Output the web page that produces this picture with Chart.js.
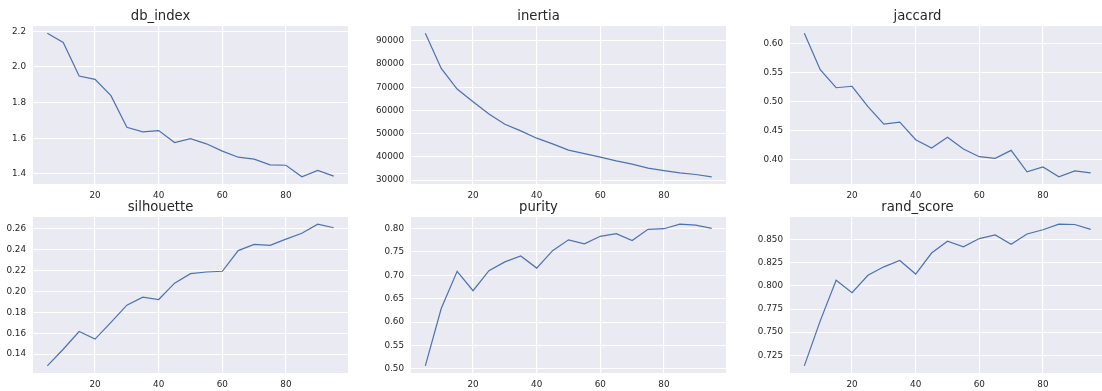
<!DOCTYPE html>
<html>
<head>
<meta charset="utf-8">
<script src="https://cdn.jsdelivr.net/npm/chart.js@4"></script>
<style>
  html, body { margin: 0; padding: 0; background: #fff; overflow: hidden; width: 1102px; height: 391px; }
  canvas { position: absolute; }
</style>
</head>
<body>
<canvas id="c0"></canvas>
<canvas id="c1"></canvas>
<canvas id="c2"></canvas>
<canvas id="c3"></canvas>
<canvas id="c4"></canvas>
<canvas id="c5"></canvas>
<script>
// number of clusters on the x axis
const ks = [5, 10, 15, 20, 25, 30, 35, 40, 45, 50, 55, 60, 65, 70, 75, 80, 85, 90, 95];

const dbIndex = [2.189, 2.137, 1.949, 1.930, 1.839, 1.662, 1.636, 1.643, 1.576, 1.598, 1.569, 1.528, 1.494, 1.483, 1.451, 1.449, 1.384, 1.420, 1.388];
const inertia = [93300, 78140, 69240, 63780, 58500, 54070, 51200, 48060, 45610, 42900, 41440, 39890, 38300, 36870, 35150, 34120, 33130, 32400, 31410];
const jaccard = [0.6176, 0.5549, 0.5240, 0.5265, 0.4917, 0.4615, 0.4650, 0.4348, 0.4205, 0.4388, 0.4186, 0.4056, 0.4027, 0.4164, 0.3795, 0.3880, 0.3710, 0.3812, 0.3778];
const silhouette = [0.1287, 0.1447, 0.1617, 0.1544, 0.1704, 0.1870, 0.1946, 0.1924, 0.2081, 0.2172, 0.2188, 0.2195, 0.2393, 0.2453, 0.2443, 0.2503, 0.2559, 0.2647, 0.2612];
const purity = [0.5063, 0.6290, 0.7083, 0.6669, 0.7097, 0.7285, 0.7411, 0.7153, 0.7525, 0.7756, 0.7670, 0.7832, 0.7889, 0.7741, 0.7980, 0.7994, 0.8092, 0.8071, 0.8000];
const randScore = [0.7136, 0.7622, 0.8061, 0.7926, 0.8114, 0.8206, 0.8274, 0.8128, 0.8355, 0.8482, 0.8422, 0.8511, 0.8550, 0.8450, 0.8560, 0.8606, 0.8667, 0.8663, 0.8610];

// tick labels
const xTicks = [20, 40, 60, 80];
const dbTicks = [1.4, 1.6, 1.8, 2.0, 2.2];
const inertiaTicks = [30000, 40000, 50000, 60000, 70000, 80000, 90000];
const jaccardTicks = [0.40, 0.45, 0.50, 0.55, 0.60];
const silTicks = [0.14, 0.16, 0.18, 0.20, 0.22, 0.24, 0.26];
const purityTicks = [0.50, 0.55, 0.60, 0.65, 0.70, 0.75, 0.80];
const randTicks = [0.725, 0.750, 0.775, 0.800, 0.825, 0.850];

const panels = [
  { title: "db_index", values: dbIndex, ticks: dbTicks, dec: 1, left: 33, top: 26, h: 158 },
  { title: "inertia", values: inertia, ticks: inertiaTicks, dec: 0, left: 411, top: 26, h: 158 },
  { title: "jaccard", values: jaccard, ticks: jaccardTicks, dec: 2, left: 790, top: 26, h: 158 },
  { title: "silhouette", values: silhouette, ticks: silTicks, dec: 2, left: 33, top: 217, h: 156 },
  { title: "purity", values: purity, ticks: purityTicks, dec: 2, left: 411, top: 217, h: 156 },
  { title: "rand_score", values: randScore, ticks: randTicks, dec: 3, left: 790, top: 217, h: 156 },
];

const AXIS_W = 60, X_AXIS_H = 22, TOP_H = 26, PLOT_W = 315;
const textColor = "#262626";

// seaborn style background behind the plot
const bgPlugin = {
  id: "bg",
  beforeDraw(chart) {
    const a = chart.chartArea, c = chart.ctx;
    c.save();
    c.fillStyle = "#EAEAF2";
    c.fillRect(a.left, a.top, a.right - a.left, a.bottom - a.top);
    c.restore();
  }
};

panels.forEach((p, i) => {
  const canvas = document.getElementById("c" + i);
  const w = AXIS_W + PLOT_W;
  const h = TOP_H + p.h + X_AXIS_H;
  canvas.width = w;
  canvas.height = h;
  canvas.style.width = w + "px";
  canvas.style.height = h + "px";
  canvas.style.left = (p.left - AXIS_W) + "px";
  canvas.style.top = (p.top - TOP_H) + "px";

  const lo = Math.min(...p.values), hi = Math.max(...p.values);
  const pad = (hi - lo) * 0.05;

  new Chart(canvas.getContext("2d"), {
    type: "line",
    data: {
      datasets: [{
        data: ks.map((k, j) => ({ x: k, y: p.values[j] })),
        borderColor: "#4C72B0",
        borderWidth: 1.2,
        pointRadius: 0,
        tension: 0,
        fill: false,
      }],
    },
    options: {
      responsive: false,
      animation: false,
      events: [],
      layout: { padding: { top: 9, left: 0, right: 0, bottom: 0 } },
      plugins: {
        legend: { display: false },
        tooltip: { enabled: false },
        title: {
          display: true,
          text: p.title,
          color: textColor,
          font: { family: "DejaVu Sans", size: 13.2, weight: "normal" },
          padding: { top: 0, bottom: 1.2 },
        },
      },
      scales: {
        x: {
          type: "linear",
          min: 0.5,
          max: 99.5,
          afterBuildTicks: (s) => { s.ticks = xTicks.map(v => ({ value: v })); },
          afterFit: (s) => { s.height = X_AXIS_H; },
          border: { display: false },
          grid: { color: "#ffffff", lineWidth: 1.1, drawTicks: false },
          ticks: {
            color: textColor,
            padding: 6,
            maxRotation: 0,
            font: { family: "DejaVu Sans", size: 8.8 },
          },
        },
        y: {
          type: "linear",
          min: lo - pad,
          max: hi + pad,
          afterBuildTicks: (s) => { s.ticks = p.ticks.map(v => ({ value: v })); },
          afterFit: (s) => { s.width = AXIS_W; },
          border: { display: false },
          grid: { color: "#ffffff", lineWidth: 1.1, drawTicks: false },
          ticks: {
            color: textColor,
            padding: 7,
            font: { family: "DejaVu Sans", size: 8.8 },
            callback: (v) => v.toFixed(p.dec),
          },
        },
      },
    },
    plugins: [bgPlugin],
  });
});
</script>
</body>
</html>
